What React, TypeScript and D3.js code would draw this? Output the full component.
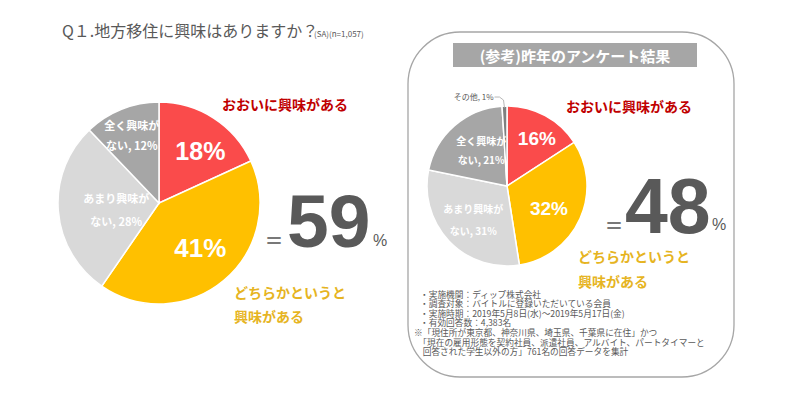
import React from "react";
import * as d3 from "d3";

const currentLabels = ["おおいに興味がある", "どちらかというと興味がある", "あまり興味がない", "全く興味がない"];
const currentValues = [18, 41, 28, 12];
const prevLabels = ["おおいに興味がある", "どちらかというと興味がある", "あまり興味がない", "全く興味がない", "その他"];
const prevValues = [16, 32, 31, 21, 1];
const currentTotal = "59";
const prevTotal = "48";
const footnotes = [
  "・実施機関：ディップ株式会社",
  "・調査対象：バイトルに登録いただいている会員",
  "・実施時期：2019年5月8日(水)～2019年5月17日(金)",
  "・有効回答数：4,383名",
  "※「現住所が東京都、神奈川県、埼玉県、千葉県に在住」かつ",
  "　「現在の雇用形態を契約社員、派遣社員、アルバイト、パートタイマーと",
  "　回答された学生以外の方」761名の回答データを集計",
];

const colors = ["#FA4B4B", "#FFC000", "#D9D9D9", "#A6A6A6", "#7F7F7F"];
const JP = "'Noto Sans CJK JP', 'Noto Sans', sans-serif";
const NUM = "'Liberation Sans', Arial, sans-serif";
const DARK = "#595959";
const RED = "#C00000";
const GOLD = "#E6B422";

function Pie({ cx, cy, r, values }: { cx: number; cy: number; r: number; values: number[] }) {
  const pie = d3.pie<number>().sort(null).value((d) => d)(values);
  const arc = d3.arc<d3.PieArcDatum<number>>().innerRadius(0).outerRadius(r);
  return (
    <g transform={`translate(${cx},${cy})`}>
      {pie.map((p, i) => (
        <path key={i} d={arc(p) || ""} fill={colors[i]} stroke="#fff" strokeWidth={1.5} />
      ))}
    </g>
  );
}

export default function App() {
  const lp = d3.pie<number>().sort(null).value((d) => d)(currentValues);
  const rp = d3.pie<number>().sort(null).value((d) => d)(prevValues);
  const L = { cx: 159, cy: 203, r: 101 };
  const R = { cx: 507, cy: 186, r: 80 };
  const pos = (p: d3.PieArcDatum<number>, c: { cx: number; cy: number }, rr: number) => {
    const a = (p.startAngle + p.endAngle) / 2;
    return [c.cx + Math.sin(a) * rr, c.cy - Math.cos(a) * rr];
  };
  const l0 = pos(lp[0], L, 58);
  const l1 = pos(lp[1], L, 58);
  const l2 = pos(lp[2], L, 63);
  const l3 = pos(lp[3], L, 68);
  const r0 = pos(rp[0], R, 50);
  const r1 = pos(rp[1], R, 46);
  const r2 = pos(rp[2], R, 48);
  const r3 = pos(rp[3], R, 47);
  const otherEdge = pos(rp[4], R, R.r);

  const smallLbl = { fill: "#fff", fontFamily: JP, fontWeight: 700, fontSize: 11, textAnchor: "middle" as const };

  return (
    <svg width={800} height={400} style={{ position: "absolute", left: 0, top: 0, background: "#fff" }}>
      <rect width={800} height={400} fill="#fff" />
      {/* Title */}
      <text x={62} y={37} fontFamily={JP} fontSize={16} fill={DARK}>
        Q１.地方移住に興味はありますか？
      </text>
      <text x={314} y={37} fontFamily={JP} fontSize={8} fill={DARK}>(SA)(n=1,057)</text>

      {/* Left pie */}
      <Pie {...L} values={currentValues} />
      <text x={l0[0] + 10} y={l0[1] - 3} fontFamily={NUM} fontWeight={700} fontSize={25} fill="#fff" textAnchor="middle" dominantBaseline="central">{currentValues[0]}%</text>
      <text x={l1[0] + 4} y={l1[1] + 1} fontFamily={NUM} fontWeight={700} fontSize={26} fill="#fff" textAnchor="middle" dominantBaseline="central">{currentValues[1]}%</text>
      <text x={l2[0] + 20} y={l2[1] - 10} {...smallLbl} dominantBaseline="central">あまり興味が</text>
      <text x={l2[0] + 20} y={l2[1] + 13} {...smallLbl} dominantBaseline="central">ない, {currentValues[2]}%</text>
      <text x={l3[0] - 2} y={l3[1] - 15} {...smallLbl} dominantBaseline="central">全く興味が</text>
      <text x={l3[0] - 2} y={l3[1] + 5} {...smallLbl} dominantBaseline="central">ない, {currentValues[3]}%</text>

      <text x={222} y={110} fontFamily={JP} fontWeight={700} fontSize={14} fill={RED}>{currentLabels[0]}</text>
      <text x={261} y={248} fontFamily={NUM} fontSize={26} fill={DARK}>＝</text>
      <text x={287} y={247} fontFamily={NUM} fontWeight={700} fontSize={75} fill={DARK}>{currentTotal}</text>
      <text x={373} y={246} fontFamily={NUM} fontSize={16} fill={DARK}>%</text>
      <text x={234} y={298} fontFamily={JP} fontWeight={700} fontSize={14} fill={GOLD}>どちらかというと</text>
      <text x={234} y={322} fontFamily={JP} fontWeight={700} fontSize={14} fill={GOLD}>興味がある</text>

      {/* Right panel */}
      <rect x={408} y={32} width={326} height={345} rx={52} ry={52} fill="#fff" stroke="#A6A6A6" strokeWidth={1.3} />
      <rect x={453} y={43} width={244} height={24} fill="#A6A6A6" />
      <text x={575} y={55} fontFamily={JP} fontWeight={700} fontSize={15} fill="#fff" textAnchor="middle" dominantBaseline="central">(参考)昨年のアンケート結果</text>

      <Pie {...R} values={prevValues} />
      <text x={r0[0] + 6} y={r0[1] - 4} fontFamily={NUM} fontWeight={700} fontSize={19} fill="#fff" textAnchor="middle" dominantBaseline="central">{prevValues[0]}%</text>
      <text x={r1[0]} y={r1[1] + 4} fontFamily={NUM} fontWeight={700} fontSize={19} fill="#fff" textAnchor="middle" dominantBaseline="central">{prevValues[1]}%</text>
      <text x={r2[0] + 1} y={r2[1] - 11} {...smallLbl} fontSize={10} dominantBaseline="central">あまり興味が</text>
      <text x={r2[0] + 1} y={r2[1] + 11} {...smallLbl} fontSize={10} dominantBaseline="central">ない, {prevValues[2]}%</text>
      <text x={r3[0] + 5} y={r3[1] - 10} {...smallLbl} fontSize={10} dominantBaseline="central">全く興味が</text>
      <text x={r3[0] + 5} y={r3[1] + 9} {...smallLbl} fontSize={10} dominantBaseline="central">ない, {prevValues[3]}%</text>
      <polyline points={`${otherEdge[0]},${otherEdge[1] + 2} ${otherEdge[0] - 1},${otherEdge[1] - 6} ${otherEdge[0] - 5},${otherEdge[1] - 9} ${otherEdge[0] - 10},${otherEdge[1] - 9}`} fill="none" stroke="#A6A6A6" strokeWidth={0.8} />
      <text x={otherEdge[0] - 11} y={otherEdge[1] - 10} fontFamily={JP} fontSize={8} fill={DARK} textAnchor="end" dominantBaseline="central">その他, {prevValues[4]}%</text>

      <text x={566} y={112} fontFamily={JP} fontWeight={700} fontSize={14} fill={RED}>{prevLabels[0]}</text>
      <text x={601} y={233} fontFamily={NUM} fontSize={26} fill={DARK}>＝</text>
      <text x={625} y={233} fontFamily={NUM} fontWeight={700} fontSize={77} fill={DARK}>{prevTotal}</text>
      <text x={712} y={230} fontFamily={NUM} fontSize={16} fill={DARK}>%</text>
      <text x={578} y={262} fontFamily={JP} fontWeight={700} fontSize={14} fill={GOLD}>どちらかというと</text>
      <text x={578} y={287} fontFamily={JP} fontWeight={700} fontSize={14} fill={GOLD}>興味がある</text>

      {footnotes.map((t, i) => (
        <text key={i} x={i >= 4 ? 414 : 420} y={294 + i * 9.6} fontFamily={JP} fontSize={8.7} fill={DARK} dominantBaseline="central">{t}</text>
      ))}
    </svg>
  );
}
